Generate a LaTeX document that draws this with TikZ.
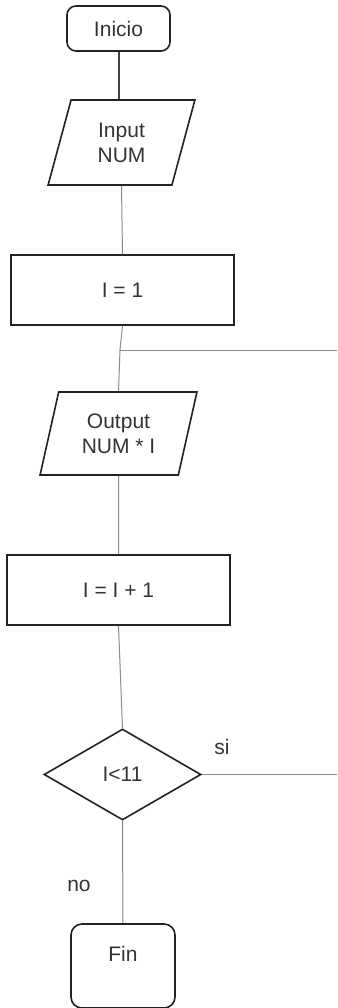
\documentclass[tikz,border=0pt]{standalone}
\usepackage{fontspec}
\setmainfont{Liberation Sans}
\usetikzlibrary{shapes.geometric}

\definecolor{ink}{HTML}{222222}
\definecolor{txt}{HTML}{333333}
\definecolor{wire}{HTML}{8A8A8A}

\begin{document}
\begin{tikzpicture}[x=1pt, y=-1pt,
    every node/.style={text=txt, font=\fontsize{21}{25}\selectfont, align=center},
    terminal/.style={draw=ink, line width=1.6pt, rounded corners=9pt},
    inout/.style={draw=ink, line width=1.6pt, trapezium, trapezium left angle=75,
        trapezium right angle=105, trapezium stretches=true},
    process/.style={draw=ink, line width=1.6pt, rectangle, minimum width=223, minimum height=70},
    decision/.style={draw=ink, line width=1.6pt, diamond, aspect=1.7, minimum width=157, minimum height=91},
    wireline/.style={draw=wire, line width=1pt}]
        \useasboundingbox (0, 0) rectangle (337, 1008);

        % shapes
        \node[terminal, minimum width=103, minimum height=45] (inicio) at (118.5, 28.5) {Inicio};
        \node[inout, minimum width=147, minimum height=85] (input) at (121.5, 142.5) {Input\\NUM};
        \node[process] (init) at (122.5, 290) {I = 1};
        \node[inout, minimum width=157, minimum height=83] (output) at (118.5, 433.5) {Output\\NUM * I};
        \node[process] (incr) at (118.5, 590) {I = I + 1};
        \node[decision] (cond) at (122.5, 774.5) {I<11};
        \node[terminal, minimum width=104, minimum height=84, rounded corners=11pt] (fin) at (123, 966) {Fin\\\mbox{}};

        \coordinate (join) at (120, 350);
        \coordinate (joinR) at (337, 350);
        \coordinate (siR) at (337, 774.5);

        % connectors
        \draw[draw=ink!85, line width=2pt] (inicio.south) -- (inicio.south |- input.north);
        \draw[wireline] (input.south) -- (init.north);
        \draw[wireline] (init.south) -- (join) -- (output.north);
        \draw[wireline] (join) -- (joinR);
        \draw[wireline] (output.south) -- (incr.north);
        \draw[wireline] (incr.south) -- (cond.north);
        \draw[wireline] (cond.east) -- (siR);
        \draw[wireline] (cond.south) -- (fin.north);

        \node (si) at (222, 747) {si};
        \node (no) at (79, 886) {no};
      \end{tikzpicture}
\end{document}
